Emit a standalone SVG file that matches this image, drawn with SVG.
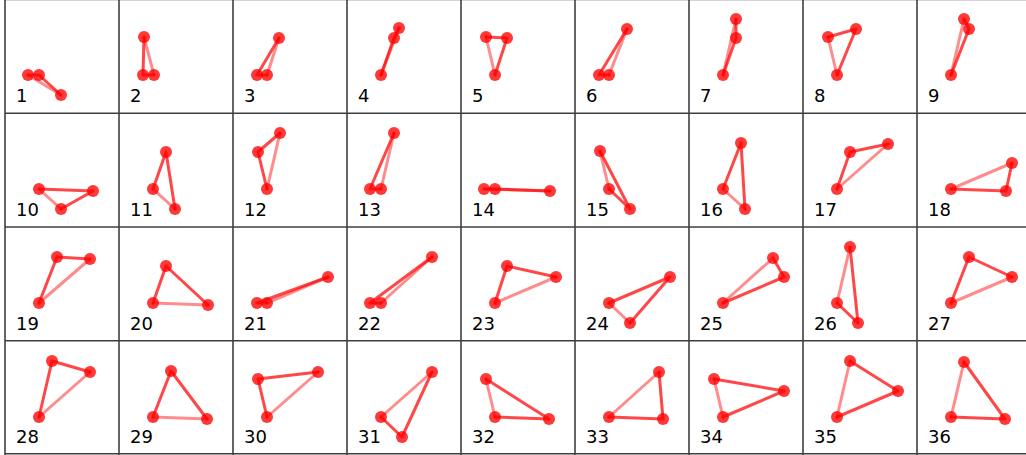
<svg xmlns="http://www.w3.org/2000/svg" width="1026" height="455" viewBox="0 0 1026 455">
<style>
.grid line{stroke:#3f3f3f;stroke-width:1.6}
.e{fill:none;stroke:#ff0000;stroke-width:3;stroke-opacity:0.72;stroke-linecap:round;stroke-linejoin:round}
.l{fill:none;stroke:#ff0000;stroke-width:3;stroke-opacity:0.45;stroke-linecap:round}
.p{fill:#ff0000;fill-opacity:0.78}
text{font-family:"DejaVu Sans","Liberation Sans",sans-serif;font-size:18px;fill:#000}
</style>
<rect width="1026" height="455" fill="#fff"/>
<g id="grid" class="grid">
<line x1="5" y1="0.3" x2="1026" y2="0.3" style="stroke:#c8c8c8;stroke-width:1"/>
<line x1="5" y1="113.3" x2="1026" y2="113.3"/>
<line x1="5" y1="227" x2="1026" y2="227"/>
<line x1="5" y1="340.7" x2="1026" y2="340.7"/>
<line x1="5" y1="453.8" x2="1026" y2="453.8"/>
<line x1="5" y1="0" x2="5" y2="455"/>
<line x1="119" y1="0" x2="119" y2="455"/>
<line x1="233" y1="0" x2="233" y2="455"/>
<line x1="347" y1="0" x2="347" y2="455"/>
<line x1="461" y1="0" x2="461" y2="455"/>
<line x1="575" y1="0" x2="575" y2="455"/>
<line x1="689" y1="0" x2="689" y2="455"/>
<line x1="803" y1="0" x2="803" y2="455"/>
<line x1="917" y1="0" x2="917" y2="455"/>
</g>
<g id="connectors">
<polyline class="e" points="28,75 39,75 61,95"/><line class="l" x1="61" y1="95" x2="28" y2="75"/>
<polyline class="e" points="144,37 143,75 154,75"/><line class="l" x1="154" y1="75" x2="144" y2="37"/>
<polyline class="e" points="279,38 257,75 267,75"/><line class="l" x1="267" y1="75" x2="279" y2="38"/>
<polyline class="e" points="381,75 394,38 399,28"/><line class="l" x1="399" y1="28" x2="381" y2="75"/>
<polyline class="e" points="486,37 507,38 495,75"/><line class="l" x1="495" y1="75" x2="486" y2="37"/>
<polyline class="e" points="627,29 599,75 609,75"/><line class="l" x1="609" y1="75" x2="627" y2="29"/>
<polyline class="e" points="736,19 736,38 723,75"/><line class="l" x1="723" y1="75" x2="736" y2="19"/>
<polyline class="e" points="828,37 856,29 837,75"/><line class="l" x1="837" y1="75" x2="828" y2="37"/>
<polyline class="e" points="964,19 969,29 951,75"/><line class="l" x1="951" y1="75" x2="964" y2="19"/>
<polyline class="e" points="39,189 93,191 61,209"/><line class="l" x1="61" y1="209" x2="39" y2="189"/>
<polyline class="e" points="175,209 166,152 153,189"/><line class="l" x1="153" y1="189" x2="175" y2="209"/>
<polyline class="e" points="280,133 258,152 267,189"/><line class="l" x1="267" y1="189" x2="280" y2="133"/>
<polyline class="e" points="394,133 370,189 381,189"/><line class="l" x1="381" y1="189" x2="394" y2="133"/>
<polyline class="e" points="484,189 495,189 550,191"/><line class="l" x1="550" y1="191" x2="484" y2="189"/>
<polyline class="e" points="600,151 630,209 609,189"/><line class="l" x1="609" y1="189" x2="600" y2="151"/>
<polyline class="e" points="745,209 741,143 723,189"/><line class="l" x1="723" y1="189" x2="745" y2="209"/>
<polyline class="e" points="837,189 850,152 888,144"/><line class="l" x1="888" y1="144" x2="837" y2="189"/>
<polyline class="e" points="1012,163 1006,191 951,189"/><line class="l" x1="951" y1="189" x2="1012" y2="163"/>
<polyline class="e" points="39,303 57,257 90,259"/><line class="l" x1="90" y1="259" x2="39" y2="303"/>
<polyline class="e" points="153,303 166,266 208,305"/><line class="l" x1="208" y1="305" x2="153" y2="303"/>
<polyline class="e" points="267,303 257,303 328,277"/><line class="l" x1="328" y1="277" x2="267" y2="303"/>
<polyline class="e" points="381,303 370,303 432,257"/><line class="l" x1="432" y1="257" x2="381" y2="303"/>
<polyline class="e" points="495,303 507,266 556,277"/><line class="l" x1="556" y1="277" x2="495" y2="303"/>
<polyline class="e" points="609,303 670,277 630,323"/><line class="l" x1="630" y1="323" x2="609" y2="303"/>
<polyline class="e" points="773,258 784,277 723,303"/><line class="l" x1="723" y1="303" x2="773" y2="258"/>
<polyline class="e" points="837,303 858,323 850,247"/><line class="l" x1="850" y1="247" x2="837" y2="303"/>
<polyline class="e" points="951,303 969,257 1012,277"/><line class="l" x1="1012" y1="277" x2="951" y2="303"/>
<polyline class="e" points="39,417 52,361 90,372"/><line class="l" x1="90" y1="372" x2="39" y2="417"/>
<polyline class="e" points="153,417 171,371 207,419"/><line class="l" x1="207" y1="419" x2="153" y2="417"/>
<polyline class="e" points="267,417 258,379 318,372"/><line class="l" x1="318" y1="372" x2="267" y2="417"/>
<polyline class="e" points="381,417 402,437 432,372"/><line class="l" x1="432" y1="372" x2="381" y2="417"/>
<polyline class="e" points="495,417 549,419 486,379"/><line class="l" x1="486" y1="379" x2="495" y2="417"/>
<polyline class="e" points="659,372 663,419 609,417"/><line class="l" x1="609" y1="417" x2="659" y2="372"/>
<polyline class="e" points="714,379 784,391 723,417"/><line class="l" x1="723" y1="417" x2="714" y2="379"/>
<polyline class="e" points="850,361 898,391 837,417"/><line class="l" x1="837" y1="417" x2="850" y2="361"/>
<polyline class="e" points="951,417 1005,419 964,362"/><line class="l" x1="964" y1="362" x2="951" y2="417"/>
</g>
<g id="p1"><circle class="p" cx="28" cy="75" r="6"/><circle class="p" cx="39" cy="75" r="6"/><circle class="p" cx="61" cy="95" r="6"/><text x="16" y="102">1</text></g>
<g id="p2"><circle class="p" cx="144" cy="37" r="6"/><circle class="p" cx="143" cy="75" r="6"/><circle class="p" cx="154" cy="75" r="6"/><text x="130" y="102">2</text></g>
<g id="p3"><circle class="p" cx="279" cy="38" r="6"/><circle class="p" cx="257" cy="75" r="6"/><circle class="p" cx="267" cy="75" r="6"/><text x="244" y="102">3</text></g>
<g id="p4"><circle class="p" cx="381" cy="75" r="6"/><circle class="p" cx="394" cy="38" r="6"/><circle class="p" cx="399" cy="28" r="6"/><text x="358" y="102">4</text></g>
<g id="p5"><circle class="p" cx="486" cy="37" r="6"/><circle class="p" cx="507" cy="38" r="6"/><circle class="p" cx="495" cy="75" r="6"/><text x="472" y="102">5</text></g>
<g id="p6"><circle class="p" cx="627" cy="29" r="6"/><circle class="p" cx="599" cy="75" r="6"/><circle class="p" cx="609" cy="75" r="6"/><text x="586" y="102">6</text></g>
<g id="p7"><circle class="p" cx="736" cy="19" r="6"/><circle class="p" cx="736" cy="38" r="6"/><circle class="p" cx="723" cy="75" r="6"/><text x="700" y="102">7</text></g>
<g id="p8"><circle class="p" cx="828" cy="37" r="6"/><circle class="p" cx="856" cy="29" r="6"/><circle class="p" cx="837" cy="75" r="6"/><text x="814" y="102">8</text></g>
<g id="p9"><circle class="p" cx="964" cy="19" r="6"/><circle class="p" cx="969" cy="29" r="6"/><circle class="p" cx="951" cy="75" r="6"/><text x="928" y="102">9</text></g>
<g id="p10"><circle class="p" cx="39" cy="189" r="6"/><circle class="p" cx="93" cy="191" r="6"/><circle class="p" cx="61" cy="209" r="6"/><text x="16" y="215.7">10</text></g>
<g id="p11"><circle class="p" cx="175" cy="209" r="6"/><circle class="p" cx="166" cy="152" r="6"/><circle class="p" cx="153" cy="189" r="6"/><text x="130" y="215.7">11</text></g>
<g id="p12"><circle class="p" cx="280" cy="133" r="6"/><circle class="p" cx="258" cy="152" r="6"/><circle class="p" cx="267" cy="189" r="6"/><text x="244" y="215.7">12</text></g>
<g id="p13"><circle class="p" cx="394" cy="133" r="6"/><circle class="p" cx="370" cy="189" r="6"/><circle class="p" cx="381" cy="189" r="6"/><text x="358" y="215.7">13</text></g>
<g id="p14"><circle class="p" cx="484" cy="189" r="6"/><circle class="p" cx="495" cy="189" r="6"/><circle class="p" cx="550" cy="191" r="6"/><text x="472" y="215.7">14</text></g>
<g id="p15"><circle class="p" cx="600" cy="151" r="6"/><circle class="p" cx="630" cy="209" r="6"/><circle class="p" cx="609" cy="189" r="6"/><text x="586" y="215.7">15</text></g>
<g id="p16"><circle class="p" cx="745" cy="209" r="6"/><circle class="p" cx="741" cy="143" r="6"/><circle class="p" cx="723" cy="189" r="6"/><text x="700" y="215.7">16</text></g>
<g id="p17"><circle class="p" cx="837" cy="189" r="6"/><circle class="p" cx="850" cy="152" r="6"/><circle class="p" cx="888" cy="144" r="6"/><text x="814" y="215.7">17</text></g>
<g id="p18"><circle class="p" cx="1012" cy="163" r="6"/><circle class="p" cx="1006" cy="191" r="6"/><circle class="p" cx="951" cy="189" r="6"/><text x="928" y="215.7">18</text></g>
<g id="p19"><circle class="p" cx="39" cy="303" r="6"/><circle class="p" cx="57" cy="257" r="6"/><circle class="p" cx="90" cy="259" r="6"/><text x="16" y="329.5">19</text></g>
<g id="p20"><circle class="p" cx="153" cy="303" r="6"/><circle class="p" cx="166" cy="266" r="6"/><circle class="p" cx="208" cy="305" r="6"/><text x="130" y="329.5">20</text></g>
<g id="p21"><circle class="p" cx="267" cy="303" r="6"/><circle class="p" cx="257" cy="303" r="6"/><circle class="p" cx="328" cy="277" r="6"/><text x="244" y="329.5">21</text></g>
<g id="p22"><circle class="p" cx="381" cy="303" r="6"/><circle class="p" cx="370" cy="303" r="6"/><circle class="p" cx="432" cy="257" r="6"/><text x="358" y="329.5">22</text></g>
<g id="p23"><circle class="p" cx="495" cy="303" r="6"/><circle class="p" cx="507" cy="266" r="6"/><circle class="p" cx="556" cy="277" r="6"/><text x="472" y="329.5">23</text></g>
<g id="p24"><circle class="p" cx="609" cy="303" r="6"/><circle class="p" cx="670" cy="277" r="6"/><circle class="p" cx="630" cy="323" r="6"/><text x="586" y="329.5">24</text></g>
<g id="p25"><circle class="p" cx="773" cy="258" r="6"/><circle class="p" cx="784" cy="277" r="6"/><circle class="p" cx="723" cy="303" r="6"/><text x="700" y="329.5">25</text></g>
<g id="p26"><circle class="p" cx="837" cy="303" r="6"/><circle class="p" cx="858" cy="323" r="6"/><circle class="p" cx="850" cy="247" r="6"/><text x="814" y="329.5">26</text></g>
<g id="p27"><circle class="p" cx="951" cy="303" r="6"/><circle class="p" cx="969" cy="257" r="6"/><circle class="p" cx="1012" cy="277" r="6"/><text x="928" y="329.5">27</text></g>
<g id="p28"><circle class="p" cx="39" cy="417" r="6"/><circle class="p" cx="52" cy="361" r="6"/><circle class="p" cx="90" cy="372" r="6"/><text x="16" y="443.3">28</text></g>
<g id="p29"><circle class="p" cx="153" cy="417" r="6"/><circle class="p" cx="171" cy="371" r="6"/><circle class="p" cx="207" cy="419" r="6"/><text x="130" y="443.3">29</text></g>
<g id="p30"><circle class="p" cx="267" cy="417" r="6"/><circle class="p" cx="258" cy="379" r="6"/><circle class="p" cx="318" cy="372" r="6"/><text x="244" y="443.3">30</text></g>
<g id="p31"><circle class="p" cx="381" cy="417" r="6"/><circle class="p" cx="402" cy="437" r="6"/><circle class="p" cx="432" cy="372" r="6"/><text x="358" y="443.3">31</text></g>
<g id="p32"><circle class="p" cx="495" cy="417" r="6"/><circle class="p" cx="549" cy="419" r="6"/><circle class="p" cx="486" cy="379" r="6"/><text x="472" y="443.3">32</text></g>
<g id="p33"><circle class="p" cx="659" cy="372" r="6"/><circle class="p" cx="663" cy="419" r="6"/><circle class="p" cx="609" cy="417" r="6"/><text x="586" y="443.3">33</text></g>
<g id="p34"><circle class="p" cx="714" cy="379" r="6"/><circle class="p" cx="784" cy="391" r="6"/><circle class="p" cx="723" cy="417" r="6"/><text x="700" y="443.3">34</text></g>
<g id="p35"><circle class="p" cx="850" cy="361" r="6"/><circle class="p" cx="898" cy="391" r="6"/><circle class="p" cx="837" cy="417" r="6"/><text x="814" y="443.3">35</text></g>
<g id="p36"><circle class="p" cx="951" cy="417" r="6"/><circle class="p" cx="1005" cy="419" r="6"/><circle class="p" cx="964" cy="362" r="6"/><text x="928" y="443.3">36</text></g>
</svg>
